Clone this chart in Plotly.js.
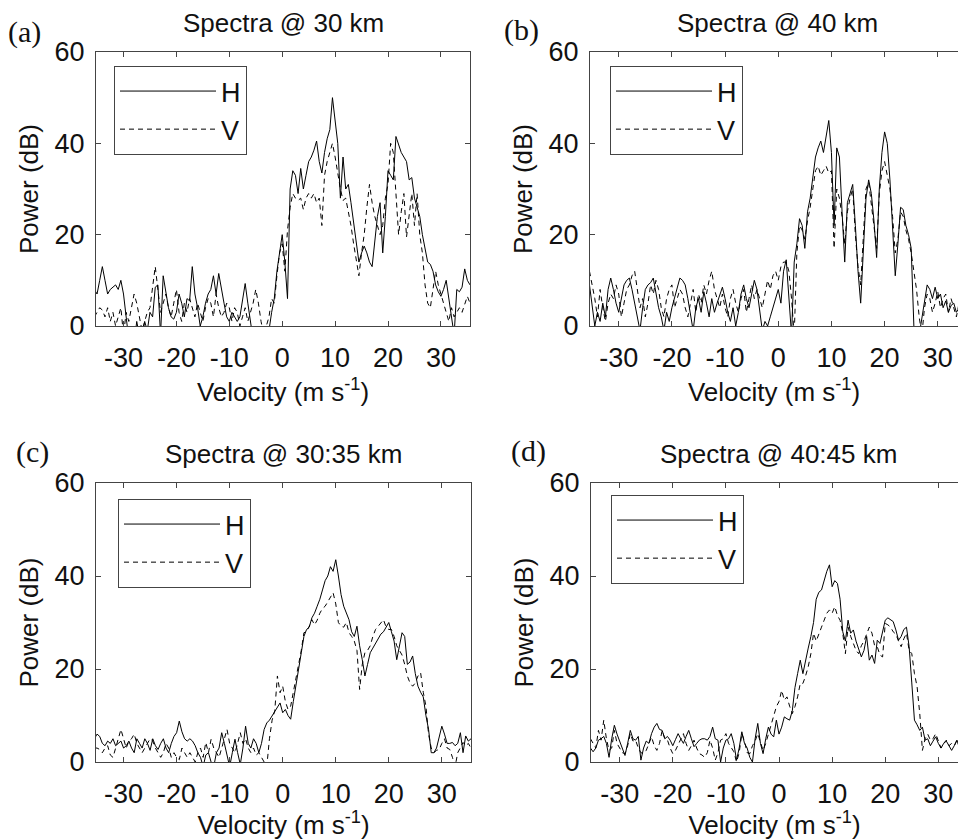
<!DOCTYPE html>
<html><head><meta charset="utf-8">
<script src="https://cdn.plot.ly/plotly-3.0.1.min.js"></script>
<style>html,body{margin:0;padding:0;background:#fff}</style>
</head><body><div id="chart" style="width:958px;height:840px"></div>
<script>
// Doppler velocity bins (m s-1)
const velocity = [
-35.5,-35,-34.5,-34,-33.5,-33,-32.5,-32,-31.5,-31,
-30.5,-30,-29.5,-29,-28.5,-28,-27.5,-27,-26.5,-26,
-25.5,-25,-24.5,-24,-23.5,-23,-22.5,-22,-21.5,-21,
-20.5,-20,-19.5,-19,-18.5,-18,-17.5,-17,-16.5,-16,
-15.5,-15,-14.5,-14,-13.5,-13,-12.5,-12,-11.5,-11,
-10.5,-10,-9.5,-9,-8.5,-8,-7.5,-7,-6.5,-6,
-5.5,-5,-4.5,-4,-3.5,-3,-2.5,-2,-1.5,-1,
-0.5,0,0.5,1,1.5,2,2.5,3,3.5,4,
4.5,5,5.5,6,6.5,7,7.5,8,8.5,9,
9.5,10,10.5,11,11.5,12,12.5,13,13.5,14,
14.5,15,15.5,16,16.5,17,17.5,18,18.5,19,
19.5,20,20.5,21,21.5,22,22.5,23,23.5,24,
24.5,25,25.5,26,26.5,27,27.5,28,28.5,29,
29.5,30,30.5,31,31.5,32,32.5,33,33.5,34,
34.5,35,35.5];

// (a) Spectra @ 30 km
const h30 = [
8,7,10,13,10,7,8,8.5,9,8,
10,7,2,-3,-2,-4,1,-2,-3,1,
-1,3,2,8.5,9,-2,11,7,4,2,
1.5,3,7,5,2,6,5.5,13,7,4,
0,2,5,7,8,11,7,11.5,8,5,
2,1,3,2,1,2,6,9.3,5,0,
-3,-4,-2,-5,-3,-4,-1,3,6,12,
16,20,14,6,30,34,33,29,34.5,30,
33,36,37,38.5,40.5,36,33.5,38,41,43,
50,45,40,28,37,30,31,27,23,19,
14,16,17.5,16,14,13,19,24,27,16,
24,34,33,32,41.5,39.5,38,37,36,32,
32.5,28,26,24,20,17,14,13.5,12,9,
7.5,6.5,8,10,6,2,-2,8,7.5,8.5,
12.5,10,9];
const v30 = [
2,3,4,3.5,2,4,1,3,0,2,
4,-2,3,1,4,7,5,2,-1,1,
3,4,9,13,8,3,5,7,4,2,
5,8,3,1,5,3,6,4,2,5,
3,1,4,6,5,2,7,4,2,3,
5,4,1,4,3,0,2,4,1,3,
5,8,5,1,-2,0,2,6,5,11,
16,18,12,21,26,29,28,27.5,28,25.5,
28,29,28,29,27,28,22,33,36,38,
40,37,33,30,27.5,28,25,22,18,14,
11,16,20,26,31,27,24,22,20,22,
28,31,40,38,28,20,25,29,19.5,25,
29,22,29,20,16,9,5,4,8,12,
9,7,5,3,1,4,2,3,4,3,
5,6.5,5];

// (b) Spectra @ 40 km
const h40 = [
9,4,0,3,1,5,2,8,10.5,8,
5,3,6,9,10,10.5,8,5,2,-1,
4,8,9,9.5,10.5,7,4,2,-1,3,
1,4,6,8,10.5,10,9,6,2,-1,
4,6,3,7.5,5,2,6,3,5,7,
8.5,6,3,1,4,0,3,7,9,6,
4,7,10,8,3,-1,1,0,2,4,
6,8,5,12,14.5,6,-2,14,18,23.5,
22,17,25,28,32,37,39,40.5,38,42,
45,38,22,39,37,25,14,27,29,31,
22,12,5,18,28,32,29,23,15,30,
38,42.5,40,32,22,11,18,26,25.5,22,
20,17,0,-3,-2,2,5,9,8,6,
8.5,6,7,4,5.5,3,4.5,5,3,4,
5,3,4];
const v40 = [
12,9,6,2,8,4,1,5,7,6,
9,7,2,5,8,9,11,12,8,4,
6,2,5,9,7,10,8,4,2,6,
8,9,4,6,8,7,4,2,5,8,
3,7,5,9,7,10,12,8,6,4,
7,4,2,6,8,5,3,6,8,3,
6,9,6,8,6,4,7,10,8,11,
12,10,13,14,14,12,6,-2,16,22,
21,19,23,26,30,34,35,33,34,35,
33.5,34,17,30,28,24,18,25,28,30,
20,13,9,20,30,31.5,27,22,17,29,
34,36,33,30,24,16,19,25,24,21,
19,16,12,8,2,-2,4,7,6,3,
5,7.5,4,6,7,3,6,4,2,5,
3,4,3];

// (c) Spectra @ 30:35 km
const h3035 = [
5,6,5.5,4,3.5,4.5,4,5,3.5,4,
4.5,3,3.5,4.5,3,2,5,4,3,5,
4,2.5,5,3.5,2.7,4,5,3,2,4,
5.5,6.3,8.8,6.5,5,4.5,5,4.5,3.5,2,
1,-1,1.5,2,0,-1,2,3,6.3,4,
1,-1,2,4.9,2,-0.5,3,7.7,4,3,
5,4,2,4,7,8.4,9,10,11,12,
12.7,10.6,11.3,10,9.2,13,17,20,23.5,27,
28.5,29,31,32,33.5,35,37,39,40,42,
41,43.5,40,36,33.5,32,30.6,28,27,29.2,
25,22,18.5,21,23.5,24.5,25.6,26.5,27.5,28,
29,30,28,26,22,25,27.8,27,21,21.5,
22.8,19,16.3,15,14,10,7,2,2,3,
5.5,7.7,6,4,4,4.2,3.5,4,6.3,2,
5.6,4.5,5];
const v3035 = [
3,3,2.7,2,3,3.5,1.5,1,3,5,
7,5,3,4.5,5,6,4,3,2,3,
4,5,4.5,3,2,1,2,4,3,1,
2,1,0.5,3,2,1,2,1,0,2,
3,1,4.2,2,4.9,3,2,1,3,5,
7,4,3,2,4,6.3,4,5,3,2,
3,1.5,2,1,0,-1,5,9,11,18.5,
14.9,16.3,13,11.3,12,15,18,20.6,24,27.8,
28,29.2,30.6,29.5,30.5,32,33,33.5,34.5,35.5,
36.4,34,30,29.2,29,30,27.8,27,26,24,
15.6,21,23.5,24,25,27,28.5,29.2,30,30.6,
29,28.5,28.5,27,25,24,23,21,18.5,17,
16.3,17,18.5,19.2,15,12,6,3,2,2.5,
2.7,4,5,3,2.7,1,-1,2,3,4.2,
3.5,4,3];

// (d) Spectra @ 40:45 km
const h4045 = [
3,2.2,3,4.7,5,5.5,4,1,5,7.9,
6,4.5,3,1.4,4,6.8,5,4.7,5.5,0.4,
3,4.5,4,6.1,7.5,8.3,7,6.8,5,5.5,
4.7,3.5,4.8,6.1,5,4,5.5,6.8,5,3.3,
4,4.7,5,5,4.7,5.5,7.5,5,4.7,0,
3,4.7,5,6.1,4,0.4,3,6.5,4,3,
1,0,5,8.3,4,1.8,5,7.5,6,5.4,
9,6,7.5,9.7,9.3,9,11,16,19,21.9,
19,22,24.5,27,30,35,36.5,37,39,41,
42.4,37.7,39,38.4,35,28,26,30.5,27.7,28.4,
26,24.5,22.6,24,27,21.9,23,21.2,26.2,25.5,
28,30.5,31,30.5,30.2,28.4,26.2,27,28.5,29,
24.8,17,9,8,6.8,7.5,4.7,5,3.5,4.5,
5.4,4,3,4,4.5,3.5,2.5,3.5,4.7,3,
4,3.5,4];
const v4045 = [
5,4,3,6.8,4.7,9,5,2.5,3,6.8,
4,3,2,1.8,3.5,6.1,4.5,4.7,3,2,
1.8,2.5,4,5.4,3.5,2.5,4,6.8,5,4.7,
3,1.8,2.5,3.6,5,6.1,4,2.5,3.5,4.7,
3,1.8,1.5,1,2,4.7,3,0.4,2,4.7,
5,6.1,4,3,2.2,0,2,6.1,4.5,2,
1.8,3.5,4.5,6.1,4,2.5,4,6.1,8,10.4,
11.9,13,15.4,13.3,14,12,10.4,11.9,14,16.9,
16.9,18.5,20.5,23.3,27.7,26,27.7,29,30.5,32,
32.7,32,33.4,31.5,30.5,27.7,23.3,29,27,25.5,
24,23.3,25,26,27.5,29,27.7,25,24.8,23,
22.6,29.8,29.5,29,28,27.5,26,24.8,26.5,27.7,
24,23.3,19,16.2,10.4,2.5,5,6,4.7,5,
6.1,4.5,3,4,4.7,3.5,4,3.5,4.7,3,
4,3.5,4];

const panelTitles = ['Spectra @ 30 km','Spectra @ 40 km','Spectra @ 30:35 km','Spectra @ 40:45 km'];
const panelLetters = ['(a)','(b)','(c)','(d)'];
const seriesH = [h30, h40, h3035, h4045];
const seriesV = [v30, v40, v3035, v4045];
const yTicks = [0,20,40,60];
const xTicks = [-30,-20,-10,0,10,20,30];
const xTickText = ['-30','-20','-10','0','10','20','30'];

const W = 958, H = 840;
const FONT = 'Liberation Sans, Arial, sans-serif';
// plot boxes in px: [left, right, top, bottom]
const boxes = [[96,470,52,326],[590,958,52,326],[96,471,483,762],[591,958,483,762]];
const xranges = [[-35.2,35.5],[-35.4,33.8],[-35.2,35.5],[-35.4,33.7]];
const legendPos = [[114,66],[610,66],[118,499],[611,495]];

const traces = [];
const layout = {
  width: W, height: H, margin:{l:0,r:0,t:0,b:0},
  paper_bgcolor:'#fff', plot_bgcolor:'#fff',
  font:{family:FONT, size:26, color:'#111'},
  showlegend:true, annotations:[]
};
for (let i=0;i<4;i++){
  const sx = i===0?'':String(i+1);
  const lg = i===0?'legend':'legend'+(i+1);
  traces.push({x:velocity, y:seriesH[i], type:'scatter', mode:'lines', name:'H',
    xaxis:'x'+sx, yaxis:'y'+sx, legend:lg, line:{color:'#000', width:1}, hoverinfo:'skip'});
  traces.push({x:velocity, y:seriesV[i], type:'scatter', mode:'lines', name:'V',
    xaxis:'x'+sx, yaxis:'y'+sx, legend:lg, line:{color:'#000', width:1, dash:'5px,4px'}, hoverinfo:'skip'});
  const b = boxes[i];
  layout['xaxis'+sx] = {
    domain:[b[0]/W, b[1]/W], range:xranges[i], anchor:'y'+sx,
    tickvals:xTicks, ticktext:xTickText, ticks:'inside', ticklen:5, tickcolor:'#444',
    showline:true, linecolor:'#444', linewidth:1, mirror:'ticks',
    showgrid:false, zeroline:false, tickfont:{size:27, family:FONT, color:'#111'},
    ticklabelstandoff:8,
    title:{text:'Velocity (m s<sup>-1</sup>)', font:{size:26, family:FONT, color:'#111'}, standoff:10}
  };
  layout['yaxis'+sx] = {
    domain:[1-b[3]/H, 1-b[2]/H], range:[0,60], anchor:'x'+sx,
    tickvals:yTicks, ticks:'inside', ticklen:5, tickcolor:'#444',
    showline:true, linecolor:'#444', linewidth:1, mirror:(i%2===0)?'ticks':false,
    showgrid:false, zeroline:false, tickfont:{size:27, family:FONT, color:'#111'},
    ticklabelstandoff:5,
    title:{text:'Power (dB)', font:{size:26, family:FONT, color:'#111'}, standoff:8}
  };
  const lp = legendPos[i];
  layout[lg] = {x:lp[0]/W, y:1-lp[1]/H, xanchor:'left', yanchor:'top',
    bgcolor:'#fff', bordercolor:'#444', borderwidth:1, itemwidth:96,
    font:{size:27, family:FONT, color:'#111'}, traceorder:'normal'};
  const cx = (b[0] + (i%2===0 ? b[1] : b[0]+374))/2;
  layout.annotations.push({text:panelTitles[i], xref:'paper', yref:'paper',
    x:cx/W, y:1-(b[2]-29)/H, xanchor:'center', yanchor:'middle', showarrow:false,
    font:{size:26, family:FONT, color:'#111'}});
  const lx = [6,502,14,509][i], ly = [32,30,452,451][i];
  layout.annotations.push({text:panelLetters[i], xref:'paper', yref:'paper',
    x:lx/W, y:1-ly/H, xanchor:'left', yanchor:'middle', showarrow:false,
    font:{size:30, family:'Liberation Serif, Times New Roman, serif', color:'#111'}});
}
Plotly.newPlot('chart', traces, layout, {staticPlot:true});
</script></body></html>
